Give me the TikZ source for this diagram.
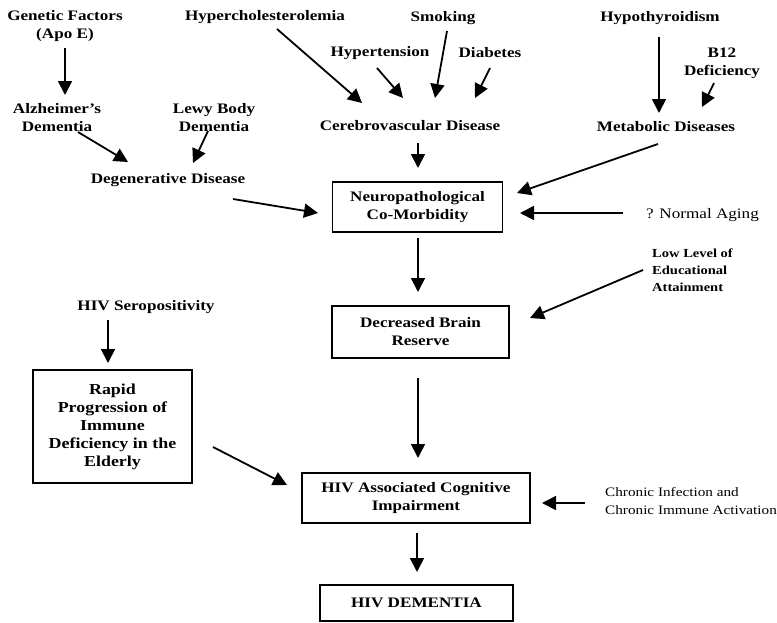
\documentclass[tikz,border=0pt]{standalone}
\usepackage{fontspec}
\setmainfont{Liberation Serif}[FakeStretch=1.18]
\usetikzlibrary{arrows.meta,calc}
\tikzset{
  lbl/.style={inner sep=0pt, align=center, font=\bfseries\fontsize{14.5}{18}\selectfont},
  lblr/.style={inner sep=0pt, align=center, font=\fontsize{14.5}{18}\selectfont},
  boxn/.style={draw, line width=1.6pt, inner sep=0pt, align=center, font=\bfseries\fontsize{14.5}{18}\selectfont},
  arr/.style={line width=1.8pt, -{Triangle[length=14pt,width=14pt]}}
}
\begin{document}
\begin{tikzpicture}[x=1pt,y=-1pt]
\useasboundingbox (0,0) rectangle (777,622);
% top labels
\node[lbl] (gen) at (65,26) {Genetic Factors\\(Apo E)};
\node[lbl] (alz) at (57,117.5) {Alzheimer's\\Dementia};
\node[lbl] (lewy) at (214,117.5) {Lewy Body\\Dementia};
\node[lbl] (deg) at (168,180) {Degenerative Disease};
\node[lbl] (hyc) at (265,17) {Hypercholesterolemia};
\node[lbl] (hten) at (380,53) {Hypertension};
\node[lbl] (smok) at (443,18) {Smoking};
\node[lbl] (diab) at (490,53) {Diabetes};
\node[lbl] (cer) at (410,126) {Cerebrovascular Disease};
\node[lbl] (hypo) at (660,18) {Hypothyroidism};
\node[lbl] (b12) at (722,63.5) {B12\\Deficiency};
\node[lbl] (meta) at (666,127) {Metabolic Diseases};
% boxes
\node[boxn, minimum width=170pt, minimum height=50pt] (neuro) at (417.5,207) {Neuropathological\\Co-Morbidity};
\node[lblr] (aging) at (702.5,215) {? Normal Aging};
\node[lbl, anchor=west, align=left, font=\bfseries\fontsize{12.3}{17}\selectfont] (low) at (652,270) {Low Level of\\Educational\\Attainment};
\node[boxn, minimum width=177pt, minimum height=52pt] (decr) at (420.5,332) {Decreased Brain\\Reserve};
\node[lbl] (sero) at (146,307) {HIV Seropositivity};
\node[boxn, minimum width=159pt, minimum height=113pt, font=\bfseries\fontsize{15.2}{18}\selectfont] (rapid) at (112.5,426.5) {Rapid\\Progression of\\Immune\\Deficiency in the\\Elderly};
\node[boxn, minimum width=228pt, minimum height=50pt] (hivc) at (416,498) {HIV Associated Cognitive\\Impairment};
\node[lblr, anchor=west, align=left, font=\fontsize{12.9}{18}\selectfont] (chron) at (605,501) {Chronic Infection and\\Chronic Immune Activation};
\node[boxn, minimum width=193pt, minimum height=36pt] (dem) at (416.5,603) {HIV DEMENTIA};
% arrows
\draw[arr] ($(gen)+(0,22)$) -- ($(alz)+(8,-22.5)$);
\draw[arr] ($(alz)+(21,14.5)$) -- ($(deg)+(-40,-18)$);
\draw[arr] ($(lewy)+(-6,13.5)$) -- ($(deg)+(25,-17)$);
\draw[arr] ($(deg)+(65,19)$) -- ($(neuro)+(-99.5,6)$);
\draw[arr] ($(hyc)+(12,12)$) -- ($(cer)+(-48,-23)$);
\draw[arr] ($(hten)+(-3,15)$) -- ($(cer)+(-7,-28)$);
\draw[arr] ($(smok)+(4,13)$) -- ($(cer)+(25,-28)$);
\draw[arr] ($(diab)+(0,15)$) -- ($(cer)+(65,-28)$);
\draw[arr] ($(cer)+(8,17)$) -- ($(neuro)+(0.5,-39)$);
\draw[arr] ($(hypo)+(-1,19)$) -- ($(meta)+(-7,-14)$);
\draw[arr] ($(b12)+(-8,19.5)$) -- ($(meta)+(36,-20)$);
\draw[arr] ($(meta)+(-8,17)$) -- ($(neuro)+(99.5,-14)$);
\draw[arr] ($(aging)+(-79.5,-2)$) -- ($(neuro)+(102.5,6)$);
\draw[arr] ($(neuro)+(0.5,31)$) -- ($(decr)+(-2.5,-40)$);
\draw[arr] ($(low.west)+(-9,0)$) -- ($(decr)+(109.5,-14)$);
\draw[arr] ($(decr)+(-2.5,46)$) -- ($(hivc)+(2,-40)$);
\draw[arr] ($(sero)+(-38,13)$) -- ($(rapid)+(-4.5,-63.5)$);
\draw[arr] ($(rapid)+(100.5,20.5)$) -- ($(hivc)+(-129,-13)$);
\draw[arr] ($(chron.west)+(-20,2)$) -- ($(hivc)+(126,5)$);
\draw[arr] ($(hivc)+(1,35)$) -- ($(dem)+(0.5,-31)$);
\end{tikzpicture}
\end{document}
